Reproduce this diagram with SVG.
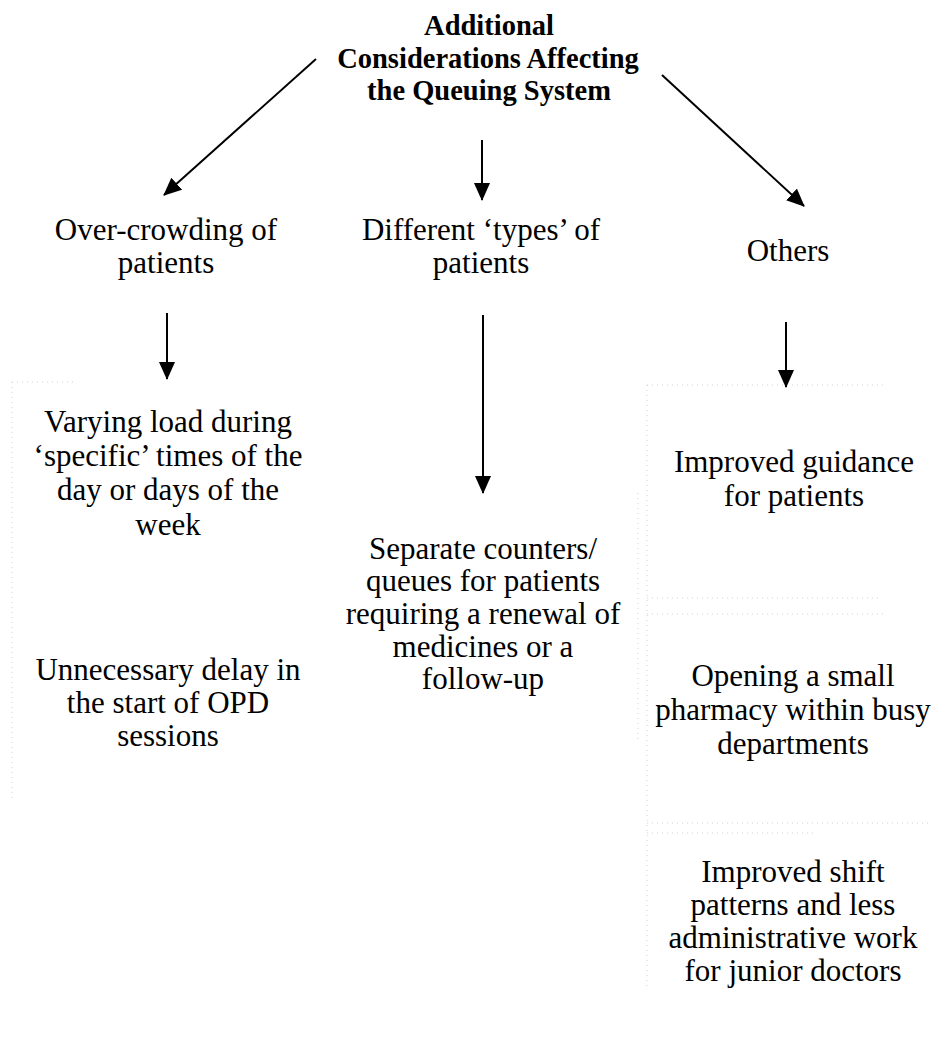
<svg xmlns="http://www.w3.org/2000/svg" width="933" height="1055" viewBox="0 0 933 1055">
  <defs>
    <marker id="head" markerWidth="18" markerHeight="16" refX="17" refY="8" orient="auto" markerUnits="userSpaceOnUse" viewBox="0 0 18 16">
      <path d="M0,0 L18,8 L0,16 Z" fill="#000"/>
    </marker>
    <style>
      text { font-family: "Liberation Serif", "Times New Roman", serif; font-size: 31px; fill: #000; text-anchor: middle; }
      .title { font-weight: bold; font-size: 28.5px; }
      .edge { stroke: #000; stroke-width: 2; fill: none; marker-end: url(#head); }
      .frame { stroke: #d2d2d2; stroke-width: 1; stroke-dasharray: 1 4; fill: none; }
    </style>
  </defs>
  <rect width="933" height="1055" fill="#fff"/>

  <!-- faint text-box outlines -->
  <g id="frames">
    <path class="frame" d="M12,382 V800 M12,382 H75"/>
    <path class="frame" d="M638,493 V740"/>
    <path class="frame" d="M647,385 H885 M647,385 V990"/>
    <path class="frame" d="M647,598 H880 M647,614 H885"/>
    <path class="frame" d="M647,823 H930 M647,833 H815"/>
  </g>

  <g id="connectors">
    <line class="edge" x1="316" y1="59" x2="164" y2="195"/>
    <line class="edge" x1="482" y1="140" x2="482" y2="200"/>
    <line class="edge" x1="662" y1="75" x2="804" y2="206"/>
    <line class="edge" x1="167" y1="313" x2="167" y2="379"/>
    <line class="edge" x1="483" y1="315" x2="483" y2="493"/>
    <line class="edge" x1="786" y1="322" x2="786" y2="387"/>
  </g>

  <g id="root">
    <text class="title" x="489" y="35">Additional</text>
    <text class="title" x="488" y="68">Considerations Affecting</text>
    <text class="title" x="489" y="100">the Queuing System</text>
  </g>

  <g id="overcrowding">
    <text x="166" y="240">Over-crowding of</text>
    <text x="166" y="273">patients</text>
  </g>
  <g id="types">
    <text x="481" y="240">Different ‘types’ of</text>
    <text x="481" y="273">patients</text>
  </g>
  <g id="others">
    <text x="788" y="261">Others</text>
  </g>

  <g id="varying-load">
    <text x="168" y="432">Varying load during</text>
    <text x="168" y="466">‘specific’ times of the</text>
    <text x="168" y="500">day or days of the</text>
    <text x="168" y="535">week</text>
  </g>
  <g id="delay">
    <text x="168" y="680">Unnecessary delay in</text>
    <text x="168" y="713">the start of OPD</text>
    <text x="168" y="746">sessions</text>
  </g>
  <g id="separate-counters">
    <text x="483" y="559">Separate counters/</text>
    <text x="483" y="591">queues for patients</text>
    <text x="483" y="624">requiring a renewal of</text>
    <text x="483" y="657">medicines or a</text>
    <text x="483" y="689">follow-up</text>
  </g>
  <g id="guidance">
    <text x="794" y="472">Improved guidance</text>
    <text x="794" y="506">for patients</text>
  </g>
  <g id="pharmacy">
    <text x="793" y="686">Opening a small</text>
    <text x="793" y="720">pharmacy within busy</text>
    <text x="793" y="754">departments</text>
  </g>
  <g id="shift-patterns">
    <text x="793" y="882">Improved shift</text>
    <text x="793" y="915">patterns and less</text>
    <text x="793" y="948">administrative work</text>
    <text x="793" y="981">for junior doctors</text>
  </g>
</svg>
